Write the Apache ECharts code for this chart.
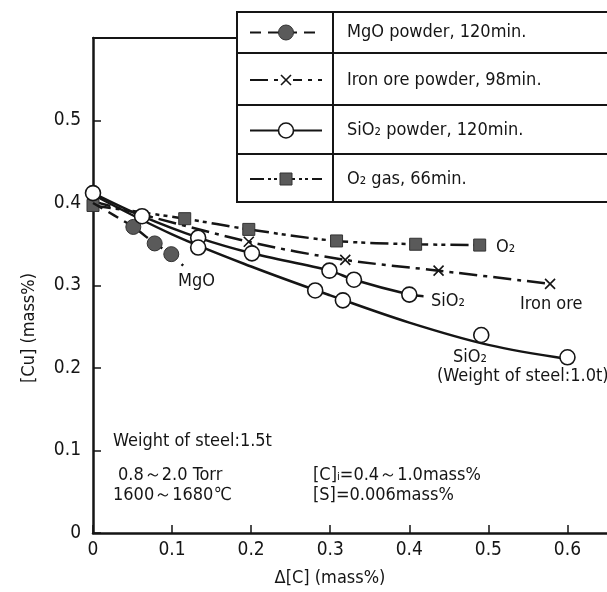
<!DOCTYPE html>
<html><head><meta charset="utf-8">
<script src="https://cdn.jsdelivr.net/npm/echarts@6/dist/echarts.min.js"></script>
<style>html,body{margin:0;padding:0;background:#fff}#c{width:607px;height:592px}</style>
</head><body><div id="c"></div>
<script>
const FONT = '"Liberation Sans Narrow","DejaVu Sans Condensed","Liberation Sans",sans-serif';
const INK = '#151515';
const GREY = '#5a5a5a';

// ---- data (Δ[C] mass%, [Cu] mass%) ----
const mgoLine = [[0, 0.400], [0.051, 0.371], [0.078, 0.351], [0.099, 0.338], [0.114, 0.324]];
const mgoMarked = [false, true, true, true, false];

const ironLine = [[0, 0.402], [0.197, 0.353], [0.319, 0.331], [0.437, 0.318], [0.578, 0.302]];
const ironMarked = [false, true, true, true, true];

const sio2Line = [[0, 0.412], [0.062, 0.384], [0.133, 0.358], [0.201, 0.339], [0.299, 0.318], [0.330, 0.307], [0.400, 0.289], [0.418, 0.287]];
const sio2Marked = [true, true, true, true, true, true, true, false];

const sio2bPoints = [[0.133, 0.346], [0.281, 0.294], [0.316, 0.282], [0.491, 0.240], [0.600, 0.213]];
const sio2bCurve = [[0, 0.410], [0.1, 0.362], [0.2, 0.323], [0.3, 0.288], [0.4, 0.255], [0.5, 0.228], [0.6, 0.211]];

const o2Line = [[0, 0.397], [0.116, 0.381], [0.197, 0.368], [0.308, 0.354], [0.408, 0.350], [0.489, 0.349]];

const legendRows = ['MgO powder, 120min.', 'Iron ore powder, 98min.', 'SiO\u2082 powder, 120min.', 'O\u2082 gas, 66min.'];

const X_MAX = 0.65, Y_MAX = 0.6, TICK = 0.1;

const CROSS = 'path://M0,0L10,10M10,0L0,10';

function items(arr, marked) {
  return arr.map((p, i) => marked[i] ? { value: p } : { value: p, symbol: 'none' });
}

const chart = echarts.init(document.getElementById('c'), null, { renderer: 'canvas' });

const lineBase = { type: 'line', silent: true, animation: false, showAllSymbol: true };

const option = {
  animation: false,
  backgroundColor: '#fff',
  grid: { left: 93, right: 0, top: 38, bottom: 59, containLabel: false },
  xAxis: [{
    type: 'value', min: 0, max: X_MAX, interval: TICK,
    axisLine: { show: true, lineStyle: { color: INK, width: 2.5 } },
    axisTick: { show: true, inside: true, length: 8, lineStyle: { color: INK, width: 1.5 } },
    axisLabel: { color: INK, fontFamily: FONT, fontSize: 19, margin: 8, showMaxLabel: false,
      formatter: v => v === 0 ? '0' : v.toFixed(1) },
    splitLine: { show: false }
  }, {
    type: 'value', position: 'top', min: 0, max: X_MAX,
    axisLine: { show: true, onZero: false, lineStyle: { color: INK, width: 2 } },
    axisTick: { show: false }, axisLabel: { show: false }, splitLine: { show: false }
  }],
  yAxis: {
    type: 'value', min: 0, max: Y_MAX, interval: TICK,
    axisLine: { show: true, lineStyle: { color: INK, width: 2.5 } },
    axisTick: { show: true, inside: true, length: 8, lineStyle: { color: INK, width: 1.5 } },
    axisLabel: { color: INK, fontFamily: FONT, fontSize: 19, margin: 12, showMaxLabel: false,
      formatter: v => v === 0 ? '0' : v.toFixed(1) },
    splitLine: { show: false }
  },
  series: [
    Object.assign({}, lineBase, {
      name: 'SiO2 1.0t curve', data: sio2bCurve, smooth: 0.35, symbol: 'none', z: 2,
      lineStyle: { color: INK, width: 2.5 }
    }),
    Object.assign({}, lineBase, {
      name: 'Iron ore', data: items(ironLine, ironMarked), smooth: 0.3, z: 3,
      symbol: CROSS, symbolSize: 10,
      itemStyle: { color: 'none', borderColor: INK, borderWidth: 1.6 },
      lineStyle: { color: INK, width: 2.5, type: [18, 6, 4, 6] }
    }),
    Object.assign({}, lineBase, {
      name: 'O2', data: o2Line, smooth: 0.3, z: 4,
      symbol: 'rect', symbolSize: 12,
      itemStyle: { color: GREY, borderColor: '#333', borderWidth: 1 },
      lineStyle: { color: INK, width: 2.5, type: [18, 5, 4, 4, 4, 5] }
    }),
    Object.assign({}, lineBase, {
      name: 'MgO', data: items(mgoLine, mgoMarked), smooth: 0.2, z: 5,
      symbol: 'circle', symbolSize: 15,
      itemStyle: { color: GREY, borderColor: '#333', borderWidth: 1 },
      lineStyle: { color: INK, width: 2.5, type: [11, 7] }
    }),
    Object.assign({}, lineBase, {
      name: 'SiO2 1.5t', data: items(sio2Line, sio2Marked), smooth: 0.3, z: 6,
      symbol: 'circle', symbolSize: 15,
      itemStyle: { color: '#fff', borderColor: INK, borderWidth: 1.6 },
      lineStyle: { color: INK, width: 2.5 }
    }),
    {
      type: 'scatter', name: 'SiO2 1.0t', data: sio2bPoints, z: 7, silent: true,
      symbol: 'circle', symbolSize: 15,
      itemStyle: { color: '#fff', borderColor: INK, borderWidth: 1.6, opacity: 1 }
    }
  ]
};
chart.setOption(option);

// ---- legend table and annotations (layout graphics) ----
const LX = 237, LDIV = 333, LR = 640;
const rowEdges = [12, 53, 105, 154, 202];
const g = [];
g.push({ type: 'rect', shape: { x: LX, y: rowEdges[0], width: LR - LX, height: rowEdges[4] - rowEdges[0] },
  style: { fill: '#fff', stroke: INK, lineWidth: 2 }, z: 100 });
for (let i = 1; i < 4; i++) {
  g.push({ type: 'line', shape: { x1: LX, y1: rowEdges[i], x2: LR, y2: rowEdges[i] }, style: { stroke: INK, lineWidth: 2 }, z: 101 });
}
g.push({ type: 'line', shape: { x1: LDIV, y1: rowEdges[0], x2: LDIV, y2: rowEdges[4] }, style: { stroke: INK, lineWidth: 2 }, z: 101 });
const sx1 = 250, sx2 = 322, scx = 286;
const dashes = [[11, 7], [18, 6, 4, 6], null, [14, 4, 3, 3, 3, 4]];
legendRows.forEach((t, i) => {
  const cy = (rowEdges[i] + rowEdges[i + 1]) / 2 + (i === 0 ? 0 : 1);
  const ls = { stroke: INK, lineWidth: 2.2 };
  if (dashes[i]) ls.lineDash = dashes[i];
  g.push({ type: 'line', shape: { x1: sx1, y1: cy, x2: sx2, y2: cy }, style: ls, z: 102 });
  if (i === 0) g.push({ type: 'circle', shape: { cx: scx, cy: cy, r: 7.5 }, style: { fill: GREY, stroke: '#333', lineWidth: 1 }, z: 103 });
  if (i === 1) {
    g.push({ type: 'rect', shape: { x: scx - 7, y: cy - 3, width: 14, height: 6 }, style: { fill: '#fff', lineWidth: 0 }, z: 103 });
    g.push({ type: 'line', shape: { x1: scx - 5, y1: cy - 5, x2: scx + 5, y2: cy + 5 }, style: { stroke: INK, lineWidth: 1.6 }, z: 104 });
    g.push({ type: 'line', shape: { x1: scx + 5, y1: cy - 5, x2: scx - 5, y2: cy + 5 }, style: { stroke: INK, lineWidth: 1.6 }, z: 104 });
  }
  if (i === 2) g.push({ type: 'circle', shape: { cx: scx, cy: cy, r: 7.5 }, style: { fill: '#fff', stroke: INK, lineWidth: 1.6 }, z: 103 });
  if (i === 3) g.push({ type: 'rect', shape: { x: scx - 6, y: cy - 6, width: 12, height: 12 }, style: { fill: GREY, stroke: '#333', lineWidth: 1 }, z: 103 });
  g.push({ type: 'text', x: 347, y: cy, style: { text: t, fill: INK, font: '18px ' + FONT, textVerticalAlign: 'middle' }, z: 103 });
});

function txt(s, x, y, size, align) {
  g.push({ type: 'text', x: x, y: y, style: { text: s, fill: INK, font: size + 'px ' + FONT, textAlign: align || 'left', textVerticalAlign: 'middle' }, z: 50 });
}
txt('MgO', 178, 281, 18);
txt('O\u2082', 496, 247, 18);
txt('SiO\u2082', 431, 301, 18);
txt('Iron ore', 520, 304, 18);
txt('SiO\u2082', 453, 357, 18);
txt('(Weight of steel:1.0t)', 437, 376, 18);
txt('Weight of steel:1.5t', 113, 441, 18);
txt('0.8\uFF5E2.0 Torr', 118, 475, 18);
txt('1600\uFF5E1680\u2103', 113, 495, 18);
txt('[C]\u1D62=0.4\uFF5E1.0mass%', 313, 475, 18);
txt('[S]=0.006mass%', 313, 495, 18);
txt('\u0394[C] (mass%)', 330, 578, 18, 'center');
g.push({ type: 'text', x: 29, y: 328, rotation: Math.PI / 2,
  style: { text: '[Cu] (mass%)', fill: INK, font: '18px ' + FONT, textAlign: 'center', textVerticalAlign: 'middle' }, z: 50 });

chart.setOption({ graphic: { elements: g } });
</script>
</body></html>
